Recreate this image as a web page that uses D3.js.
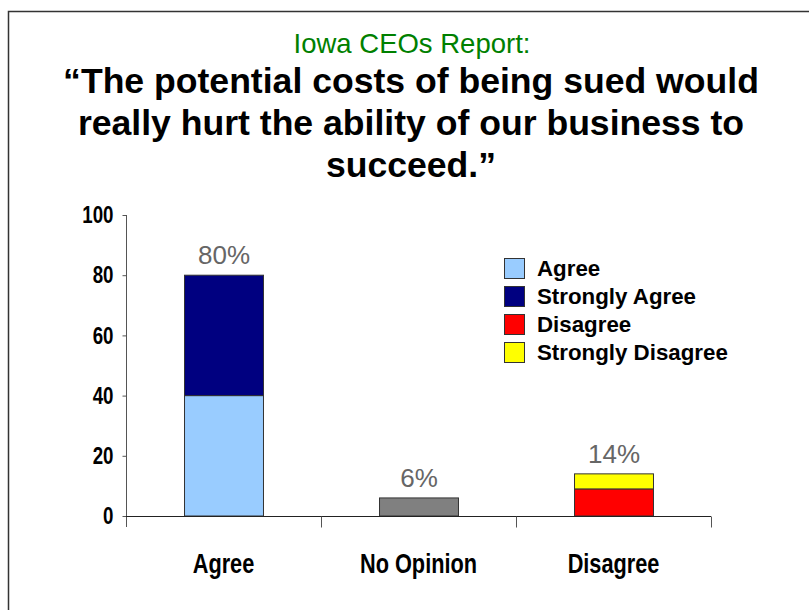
<!DOCTYPE html>
<html>
<head>
<meta charset="utf-8">
<script src="https://cdn.jsdelivr.net/npm/d3@7"></script>
<style>
  html, body { margin: 0; padding: 0; background: #fff; }
  svg { display: block; }
  text { font-family: Arial, "Liberation Sans", sans-serif; }
</style>
</head>
<body>
<svg id="chart" width="809" height="610"></svg>
<script>
// ---- data ----
const categories = ["Agree", "No Opinion", "Disagree"];
const agreeValues = [40, 0, 0];
const stronglyAgreeValues = [40, 0, 0];
const noOpinionValues = [0, 6, 0];
const disagreeValues = [0, 0, 9];
const stronglyDisagreeValues = [0, 0, 5];
const totalLabels = ["80%", "6%", "14%"];
const yTickValues = [0, 20, 40, 60, 80, 100];
const legendLabels = ["Agree", "Strongly Agree", "Disagree", "Strongly Disagree"];
const subtitleText = "Iowa CEOs Report:";
const titleLines = ["\u201CThe potential costs of being sued would",
                    "really hurt the ability of our business to",
                    "succeed.\u201D"];

// ---- styling ----
const seriesKeys = ["agree", "stronglyAgree", "noOpinion", "disagree", "stronglyDisagree"];
const seriesColors = {
  agree: "#99CCFF", stronglyAgree: "#000080", noOpinion: "#808080",
  disagree: "#FF0000", stronglyDisagree: "#FFFF00"
};
const legendKeys = ["agree", "stronglyAgree", "disagree", "stronglyDisagree"];
const Y_NARROW = 0.78;
const X_NARROW = 0.79;

const rows = categories.map((c, i) => ({
  category: c,
  agree: agreeValues[i],
  stronglyAgree: stronglyAgreeValues[i],
  noOpinion: noOpinionValues[i],
  disagree: disagreeValues[i],
  stronglyDisagree: stronglyDisagreeValues[i]
}));

const svg = d3.select("#chart");

// frame
svg.append("path")
  .attr("d", "M8.5,610 L8.5,11.5 L809,11.5")
  .attr("fill", "none").attr("stroke", "#333").attr("stroke-width", 1.5);

// titles
svg.append("text")
  .attr("x", 412).attr("y", 53)
  .attr("text-anchor", "middle")
  .attr("font-size", 27.5).attr("fill", "#008000")
  .text(subtitleText);

svg.append("g").selectAll("text").data(titleLines).join("text")
  .attr("x", 411).attr("y", (d, i) => 93 + i * 42)
  .attr("text-anchor", "middle")
  .attr("font-size", 35.6).attr("font-weight", "bold").attr("fill", "#000")
  .text(d => d);

// scales
const x = d3.scaleBand().domain(categories).range([126, 711]).padding(0);
const y = d3.scaleLinear().domain([0, 100]).range([516, 215]);
const barFrac = 0.405;
const bw = x.bandwidth() * barFrac;

const stack = d3.stack().keys(seriesKeys);
const stacked = stack(rows);

// bars
const barG = svg.append("g");
stacked.forEach(layer => {
  barG.selectAll(null).data(layer.filter(d => d[1] - d[0] > 0)).join("rect")
    .attr("x", d => x(d.data.category) + (x.bandwidth() - bw) / 2 + 0.5)
    .attr("y", d => y(d[1]))
    .attr("width", bw)
    .attr("height", d => y(d[0]) - y(d[1]))
    .attr("fill", seriesColors[layer.key])
    .attr("stroke", "#333").attr("stroke-width", 1);
});

// totals
const totals = rows.map(r => seriesKeys.reduce((s, k) => s + r[k], 0));
svg.append("g").selectAll("text").data(categories).join("text")
  .attr("x", c => x(c) + x.bandwidth() / 2 + 0.5)
  .attr("y", (c, i) => y(totals[i]) - 11)
  .attr("text-anchor", "middle")
  .attr("font-size", 26).attr("fill", "#666")
  .text((c, i) => totalLabels[i]);

// y axis
const yAxis = svg.append("g").attr("transform", "translate(126.5,0)")
  .call(d3.axisLeft(y).tickValues(yTickValues).tickSize(4).tickPadding(9).tickSizeOuter(0));
yAxis.select(".domain").attr("stroke", "#555").attr("d", "M0,215V527");
yAxis.selectAll(".tick line").attr("stroke", "#555");
yAxis.selectAll(".tick text")
  .attr("font-family", "Arial, 'Liberation Sans', sans-serif")
  .attr("font-size", 24).attr("font-weight", "bold").attr("fill", "#000")
  .each(function() {
    const t = d3.select(this);
    const xv = +t.attr("x");
    t.attr("x", xv / Y_NARROW).attr("transform", `scale(${Y_NARROW},1)`);
  });

// x axis
const xAxis = svg.append("g").attr("transform", "translate(0,516.5)")
  .call(d3.axisBottom(x).tickSize(0).tickSizeOuter(0));
xAxis.select(".domain").attr("stroke", "#222").attr("d", "M126,0H711");
xAxis.selectAll(".tick text")
  .attr("font-family", "Arial, 'Liberation Sans', sans-serif")
  .attr("font-size", 27.5).attr("font-weight", "bold").attr("fill", "#000")
  .attr("dy", null).attr("y", 56.5)
  .attr("transform", `scale(${X_NARROW},1)`)
  .attr("x", 0);
xAxis.selectAll(".tick").each(function(c) {
  const g = d3.select(this);
  const cx = x(c) + x.bandwidth() / 2;
  g.attr("transform", `translate(${cx},0)`);
});
// category boundary ticks
const boundaries = categories.map(c => x(c)).concat([x.range()[1]]).slice(1);
xAxis.selectAll(".bound").data(boundaries).join("line")
  .attr("class", "bound")
  .attr("x1", d => d + 0.5).attr("x2", d => d + 0.5)
  .attr("y1", 0).attr("y2", 11)
  .attr("stroke", "#555");

// legend
const legend = svg.append("g");
const legRows = legend.selectAll("g").data(legendKeys).join("g")
  .attr("transform", (d, i) => `translate(504,${258 + i * 28})`);
legRows.append("rect")
  .attr("x", 0.5).attr("y", 0.5).attr("width", 20).attr("height", 20)
  .attr("fill", d => seriesColors[d]).attr("stroke", "#333").attr("stroke-width", 1);
legRows.append("text")
  .attr("x", 33).attr("y", 17.5)
  .attr("font-size", 22.3).attr("font-weight", "bold").attr("fill", "#000")
  .text((d, i) => legendLabels[i]);
</script>
</body>
</html>
